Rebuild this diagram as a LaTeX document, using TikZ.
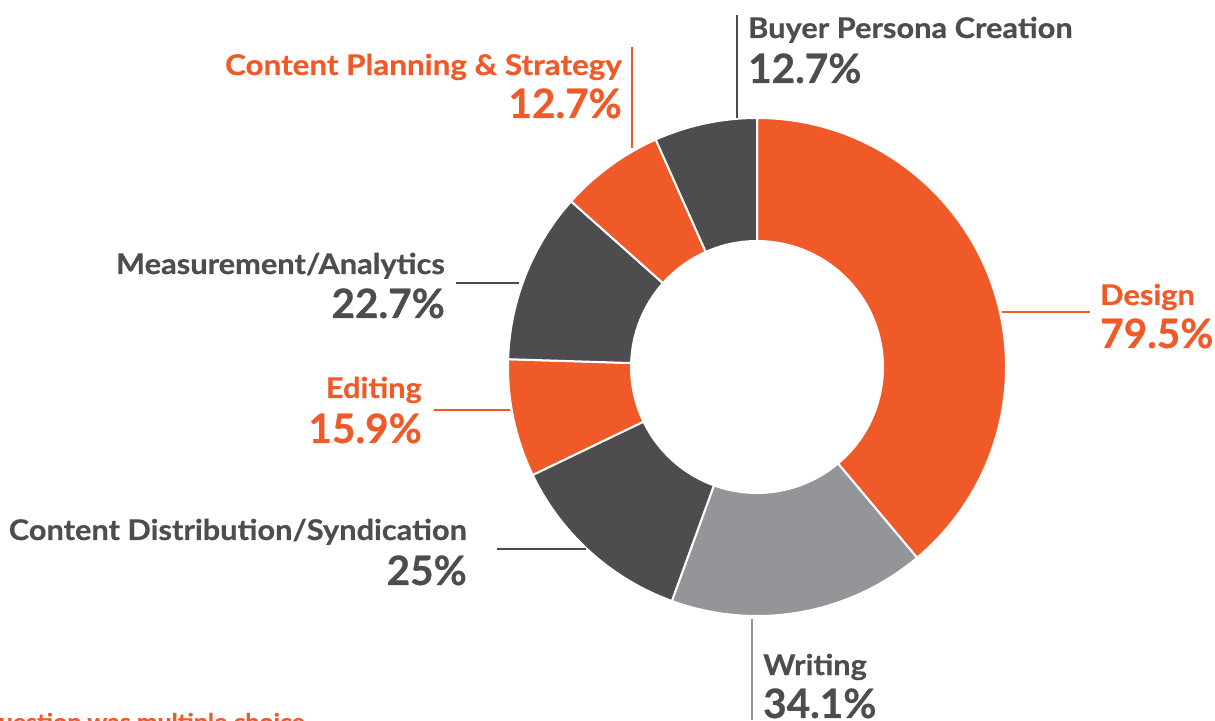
\documentclass[tikz,border=0pt]{standalone}
\usepackage{fontspec}
\setmainfont{Lato}
\newfontfamily\namefont{Lato}[FakeStretch=1.08, FakeBold=0.6]
\newfontfamily\pctfont{Lato}[FakeBold=0.6]
\definecolor{orng}{HTML}{F05A28}
\definecolor{dgray}{HTML}{4D4D4F}
\definecolor{lgray}{HTML}{939598}
\definecolor{txtgray}{HTML}{4D4D4F}
\begin{document}
\begin{tikzpicture}[x=1pt,y=1pt,
  slice/.style={draw=white, line width=2pt, line join=round},
  lname/.style={inner sep=0pt, font=\namefont\fontsize{28.5}{30}\selectfont\bfseries},
  lpct/.style={inner sep=0pt, font=\pctfont\fontsize{40.5}{44}\selectfont\bfseries},
  leader/.style={line width=1.3pt}]
\useasboundingbox (0,0) rectangle (1215,720);
\clip (0,0) rectangle (1215,720);
% donut
\begin{scope}[shift={(757,353)}]
\def\ri{126}\def\ro{249}
\foreach \a/\b/\c in {90/-50/orng, -50/-110/lgray, -110/-154.3/dgray, -154.3/-181.8/orng, -181.8/-221.7/dgray, -221.7/-246/orng, -246/-270/dgray}{
  \filldraw[slice, fill=\c] (\a:\ri) -- (\a:\ro) arc[start angle=\a, end angle=\b, radius=\ro] -- (\b:\ri) arc[start angle=\b, end angle=\a, radius=\ri] -- cycle;
}
\end{scope}
% labels
\node[lname, text=txtgray, anchor=base west] (bpn) at (748,682) {Buyer Persona Creation};
\node[lpct, text=txtgray, anchor=base west] (bpp) at (748,637) {12.7\%};
\node[lname, text=orng, anchor=base east, xscale=1.02] (cpn) at (622,645) {Content Planning \& Strategy};
\node[lpct, text=orng, anchor=base east] (cpp) at (622,602) {12.7\%};
\node[lname, text=txtgray, anchor=base east] (man) at (445,446) {Measurement/Analytics};
\node[lpct, text=txtgray, anchor=base east] (map) at (445,402) {22.7\%};
\node[lname, text=orng, anchor=base east] (edn) at (422,322) {Editing};
\node[lpct, text=orng, anchor=base east] (edp) at (422,277) {15.9\%};
\node[lname, text=txtgray, anchor=base east] (cdn) at (467,180) {Content Distribution/Syndication};
\node[lpct, text=txtgray, anchor=base east] (cdp) at (467,135) {25\%};
\node[lname, text=txtgray, anchor=base west] (wrn) at (763,45) {Writing};
\node[lpct, text=txtgray, anchor=base west] (wrp) at (763,2) {34.1\%};
\node[lname, text=orng, anchor=base west] (den) at (1100,415) {Design};
\node[lpct, text=orng, anchor=base west] (dep) at (1100,372) {79.5\%};
\node[inner sep=0pt, anchor=base east, text=orng, font=\namefont\fontsize{23}{25}\selectfont\bfseries] (note) at (305,-10) {question was multiple choice};
% leader coordinates
\coordinate (bp1) at (737,705); \coordinate (bp2) at (737,602);
\coordinate (cp1) at (632,673); \coordinate (cp2) at (632,572);
\coordinate (ma1) at (456,437); \coordinate (ma2) at (519,437);
\coordinate (ed1) at (434,310); \coordinate (ed2) at (510,310);
\coordinate (cd1) at (497,171); \coordinate (cd2) at (586,171);
\coordinate (wr1) at (752,101); \coordinate (wr2) at (752,0);
\coordinate (de1) at (1002,408); \coordinate (de2) at (1090,408);
\draw[leader, draw=txtgray] (bp1) -- (bp2);
\draw[leader, draw=orng] (cp1) -- (cp2);
\draw[leader, draw=txtgray] (ma1) -- (ma2);
\draw[leader, draw=orng] (ed1) -- (ed2);
\draw[leader, draw=txtgray] (cd1) -- (cd2);
\draw[leader, draw=lgray] (wr1) -- (wr2);
\draw[leader, draw=orng] (de1) -- (de2);
\end{tikzpicture}
\end{document}
